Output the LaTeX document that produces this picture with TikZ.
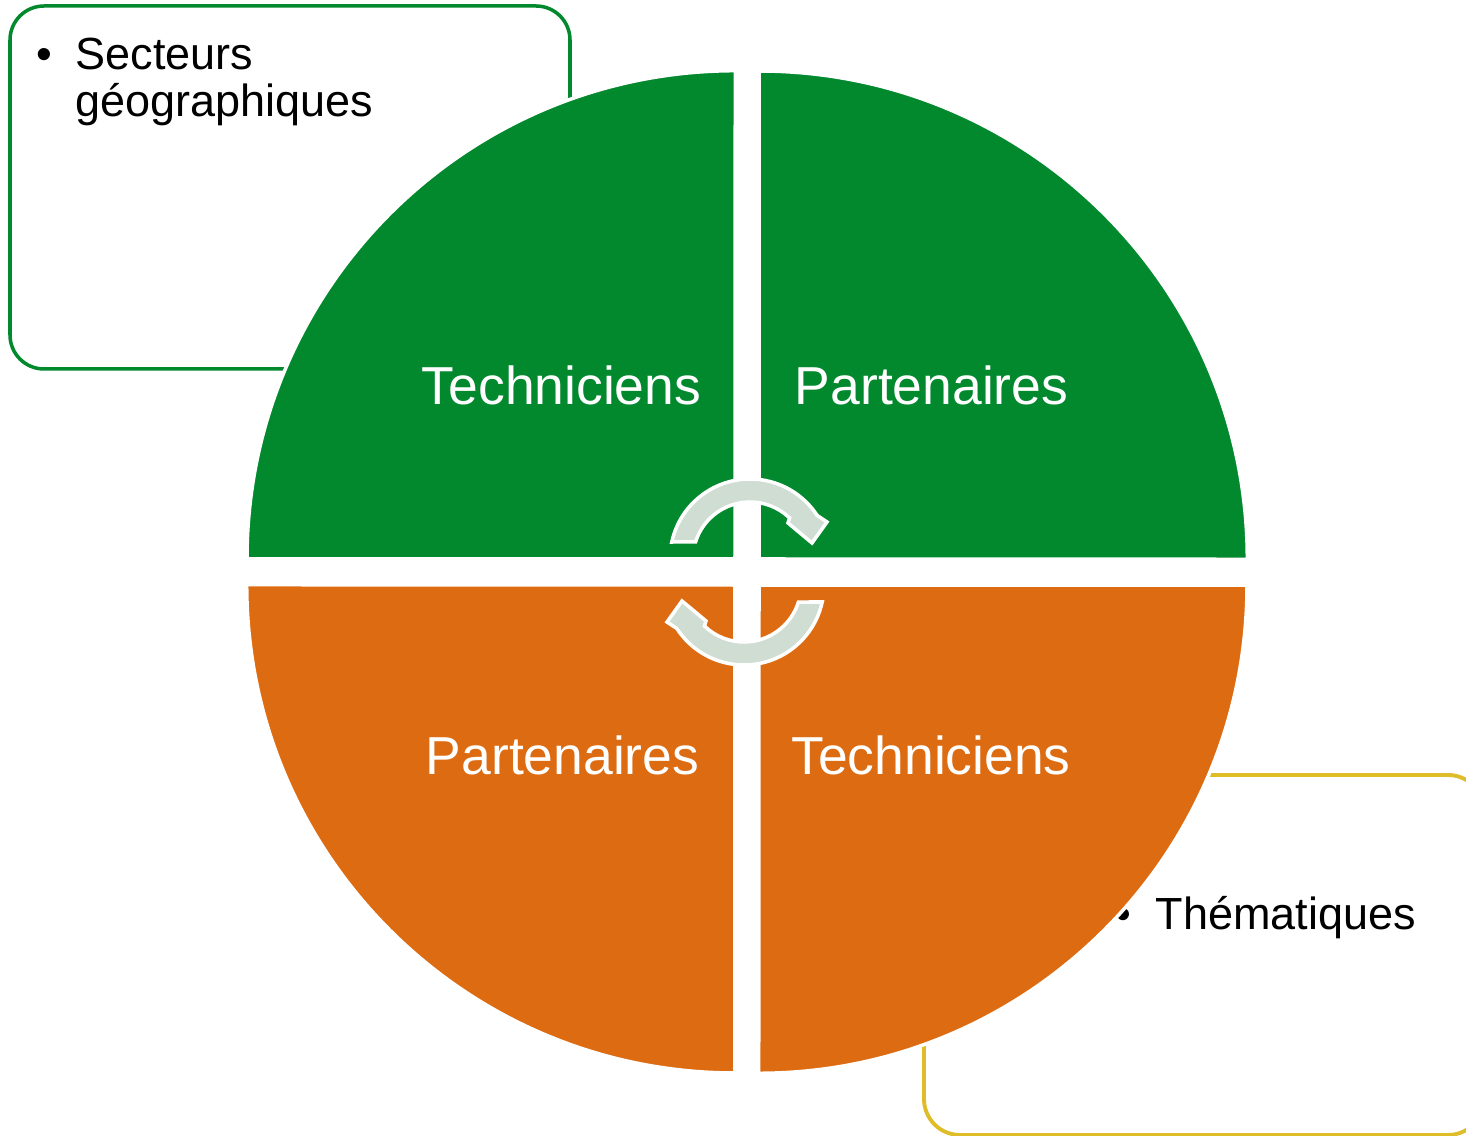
\documentclass[tikz,border=0pt]{standalone}
\usepackage{fontspec}
\setmainfont{Liberation Sans}
\definecolor{qgreen}{RGB}{2,137,46}
\definecolor{qorange}{RGB}{221,107,17}
\definecolor{qyellow}{RGB}{222,189,40}
\definecolor{qarrow}{RGB}{207,221,210}
\tikzset{
  boxtext/.style={anchor=base west, inner sep=0pt, font=\fontsize{12.8}{13.4}\selectfont, text=black},
  quadtext/.style={anchor=base, inner sep=0pt, font=\fontsize{15.2}{18}\selectfont, text=white},
  quadrant/.style={draw=white, line width=1pt, line join=round},
  arrowshape/.style={fill=qarrow, draw=white, line width=1pt, line join=miter},
}
\begin{document}
\begin{tikzpicture}[x=0.01cm,y=0.01cm]
\useasboundingbox (0,0) rectangle (1466,1136);
\clip (0,0) rectangle (1466,1136);
\fill[white] (0,0) rectangle (1466,1136);

% outer boxes (behind the circle)
\draw[qgreen, line width=1pt, rounded corners=0.34cm] (10,767) rectangle (570,1130);
\draw[qyellow, line width=1.1pt, rounded corners=0.36cm] (924,1) rectangle (1484,361);

\node[boxtext] (b1) at (36,1066) {\textbullet};
\node[boxtext] (sect1) at (75,1066) {Secteurs};
\node[boxtext] (sect2) at (75,1019) {géographiques};
\node[boxtext] (b2) at (1115,206) {\textbullet};
\node[boxtext] (them) at (1155,206) {Thématiques};

% quadrants
\filldraw[quadrant, fill=qgreen] (735,577) -- (247,577) arc[start angle=180,end angle=90,radius=4.88cm] -- cycle;
\filldraw[quadrant, fill=qgreen] (759,577) -- (759,1065) arc[start angle=90,end angle=0,radius=4.88cm] -- cycle;
\filldraw[quadrant, fill=qorange] (735,551) -- (735,63) arc[start angle=270,end angle=180,radius=4.88cm] -- cycle;
\filldraw[quadrant, fill=qorange] (759,551) -- (1247,551) arc[start angle=0,end angle=-90,radius=4.88cm] -- cycle;

\node[quadtext] (tl) at (561.5,731) {Techniciens};
\node[quadtext] (tr) at (931.5,731) {Partenaires};
\node[quadtext] (bl) at (562.5,361) {Partenaires};
\node[quadtext] (br) at (931,361) {Techniciens};

% circular arrows
\path[arrowshape] (671.8,594) arc[start angle=167.7,end angle=33,radius=0.8cm]
  -- (827,614) -- (812,593) -- (788,613) -- (789.6,618)
  arc[start angle=46,end angle=162.6,radius=0.57cm] -- cycle;
\begin{scope}[rotate around={180:(747,564)}]
\path[arrowshape] (671.8,594) arc[start angle=167.7,end angle=33,radius=0.8cm]
  -- (827,614) -- (812,593) -- (788,613) -- (789.6,618)
  arc[start angle=46,end angle=162.6,radius=0.57cm] -- cycle;
\end{scope}
\end{tikzpicture}
\end{document}
